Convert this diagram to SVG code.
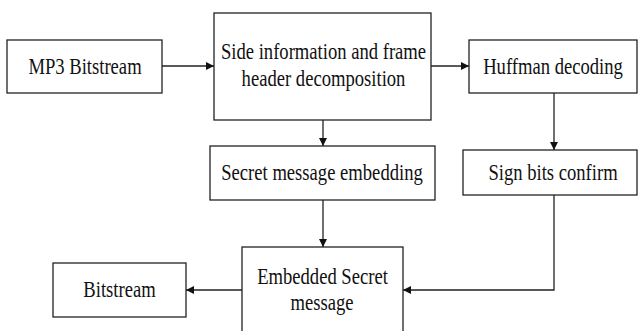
<svg xmlns="http://www.w3.org/2000/svg" width="640" height="331" viewBox="0 0 640 331">
<style>
.box{fill:#fff;stroke:#222;stroke-width:1.3}
.lbl{font-family:"Liberation Serif","Times New Roman",serif;font-size:23px;fill:#111;text-anchor:middle}
.con{fill:none;stroke:#222;stroke-width:1.3}
</style>
<defs>
<marker id="ah" viewBox="0 0 10 10" refX="10" refY="5" markerWidth="8" markerHeight="8" markerUnits="userSpaceOnUse" orient="auto">
<path d="M0,0 L10,5 L0,10 z" fill="#111"/>
</marker>
</defs>
<rect width="640" height="331" fill="#fff"/>
<g id="connectors">
<path class="con" d="M162,66 H214" marker-end="url(#ah)"/>
<path class="con" d="M431,66 H469" marker-end="url(#ah)"/>
<path class="con" d="M323,120 V146" marker-end="url(#ah)"/>
<path class="con" d="M554,93 V150" marker-end="url(#ah)"/>
<path class="con" d="M323,200 V247" marker-end="url(#ah)"/>
<path class="con" d="M554,195 V290 H403" marker-end="url(#ah)"/>
<path class="con" d="M242,290 H186" marker-end="url(#ah)"/>
</g>
<g id="mp3">
<rect class="box" x="7" y="40" width="155" height="53"/>
<text class="lbl" transform="translate(85,74) scale(0.81,1)">MP3 Bitstream</text>
</g>
<g id="side">
<rect class="box" x="214" y="13" width="217" height="107"/>
<text class="lbl" transform="translate(323.5,59) scale(0.81,1)">Side information and frame</text>
<text class="lbl" transform="translate(323.5,86) scale(0.81,1)">header decomposition</text>
</g>
<g id="huffman">
<rect class="box" x="469" y="40" width="168" height="53"/>
<text class="lbl" transform="translate(553,74) scale(0.81,1)">Huffman decoding</text>
</g>
<g id="secret">
<rect class="box" x="210" y="146" width="225" height="54"/>
<text class="lbl" transform="translate(322,180) scale(0.81,1)">Secret message embedding</text>
</g>
<g id="sign">
<rect class="box" x="463" y="150" width="174" height="45"/>
<text class="lbl" transform="translate(553,180) scale(0.81,1)">Sign bits confirm</text>
</g>
<g id="embedded">
<rect class="box" x="242" y="247" width="161" height="100"/>
<text class="lbl" transform="translate(322.5,284) scale(0.81,1)">Embedded Secret</text>
<text class="lbl" transform="translate(322,310) scale(0.81,1)">message</text>
</g>
<g id="bitstream">
<rect class="box" x="53" y="263" width="133" height="54"/>
<text class="lbl" transform="translate(119.5,297) scale(0.81,1)">Bitstream</text>
</g>
</svg>
